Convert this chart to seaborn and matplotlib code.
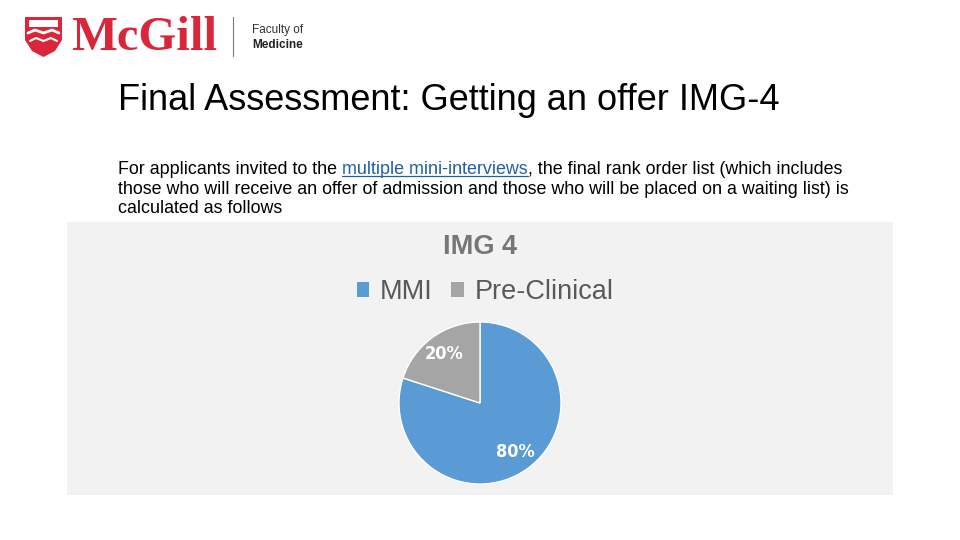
import matplotlib
matplotlib.use("Agg")
import matplotlib.pyplot as plt
import seaborn as sns
from matplotlib.patches import Patch, Polygon, Rectangle

# chart data
categories = ["MMI", "Pre-Clinical"]
shares = [80, 20]
colors = ["#5b9bd5", "#a5a5a5"]

slide_title = "Final Assessment: Getting an offer IMG-4"
chart_title = "IMG 4"
body_lines = [
    ["For applicants invited to the ", "multiple mini-interviews", ", the final rank order list (which includes"],
    ["those who will receive an offer of admission and those who will be placed on a waiting list) is"],
    ["calculated as follows"],
]

sns.set_theme(style="white")
plt.rcParams["font.family"] = ["Liberation Sans", "DejaVu Sans"]

W, H = 960, 540
fig = plt.figure(figsize=(9.6, 5.4), dpi=100)
fig.patch.set_facecolor("white")


def fx(x):
    return x / W


def fy(y):
    return 1 - y / H


# ---- logo ----
logo = fig.add_axes([0, 0, 1, 1], zorder=5)
logo.set_xlim(0, W)
logo.set_ylim(H, 0)
logo.axis("off")
logo.patch.set_alpha(0)
shield = Polygon([(25, 17), (62, 17), (62, 40), (55, 51), (43.5, 57), (32, 51), (25, 40)],
                 closed=True, facecolor="#d9263a", edgecolor="none")
logo.add_patch(shield)
logo.add_patch(Rectangle((29, 20), 29, 7, facecolor="white", edgecolor="none"))
logo.plot([28, 35, 43.5, 52, 59], [33, 30, 33, 30, 33], color="white", lw=2)
logo.plot([30, 36, 43.5, 51, 57], [41, 38, 41, 38, 41], color="white", lw=1.5)
logo.text(71, 38, "McGill", fontsize=35, fontweight="bold", color="#d9263a",
          family=["Liberation Serif", "DejaVu Serif"], va="center", ha="left")
logo.plot([233, 233], [17, 56], color="#777777", lw=0.8)
logo.text(252, 30, "Faculty of", fontsize=8.5, color="#333333", va="center", ha="left")
logo.text(252, 45, "Medicine", fontsize=8.5, fontweight="bold", color="#222222", va="center", ha="left")

# ---- slide title ----
fig.text(fx(118), fy(101), slide_title, fontsize=26, color="#000000", va="center", ha="left")

# ---- body text with link ----
fig.canvas.draw()
renderer = fig.canvas.get_renderer()
baselines = [174, 193.5, 213]
for parts, y in zip(body_lines, baselines):
    x = 118
    for i, part in enumerate(parts):
        is_link = len(parts) > 1 and i == 1
        t = fig.text(fx(x), fy(y), part, fontsize=12.9,
                     color="#1f5fa8" if is_link else "#000000",
                     va="baseline", ha="left")
        bb = t.get_window_extent(renderer=renderer)
        if is_link:
            logo.plot([x, x + bb.width], [y + 2, y + 2], color="#1f5fa8", lw=0.9)
        x += bb.width

# ---- chart panel ----
panel = fig.add_axes([fx(67), fy(495), fx(893) - fx(67), fy(222) - fy(495)])
panel.set_facecolor("#f2f2f2")
panel.set_xticks([])
panel.set_yticks([])
for s in panel.spines.values():
    s.set_visible(False)

fig.text(fx(480), fy(247), chart_title, fontsize=19.5, fontweight="bold",
         color="#767676", ha="center", va="center", zorder=3)

handles = [Patch(facecolor=c, edgecolor="none", label=l) for c, l in zip(colors, categories)]
leg = fig.legend(handles=handles, loc="center", bbox_to_anchor=(fx(485), fy(292)),
                 ncol=2, frameon=False, fontsize=19.5, handlelength=0.45, handleheight=0.45,
                 handletextpad=0.4, columnspacing=0.7, borderaxespad=0)
for t in leg.get_texts():
    t.set_color("#595959")

# ---- pie ----
r = 81
pie_ax = fig.add_axes([fx(480 - r), fy(403 + r), 2 * r / W, 2 * r / H])
pie_ax.set_facecolor("none")
wedges, texts, autotexts = pie_ax.pie(
    shares, colors=colors, startangle=90, counterclock=False,
    autopct="%d%%", pctdistance=0.75,
    wedgeprops=dict(edgecolor="white", linewidth=1),
)
for t in autotexts:
    t.set_color("white")
    t.set_fontsize(13)
    t.set_fontweight("bold")
    t.set_fontstretch("condensed")
    t.set_family(["DejaVu Sans"])
pie_ax.set_xlim(-1, 1)
pie_ax.set_ylim(-1, 1)

fig.savefig("out.png", dpi=100)
